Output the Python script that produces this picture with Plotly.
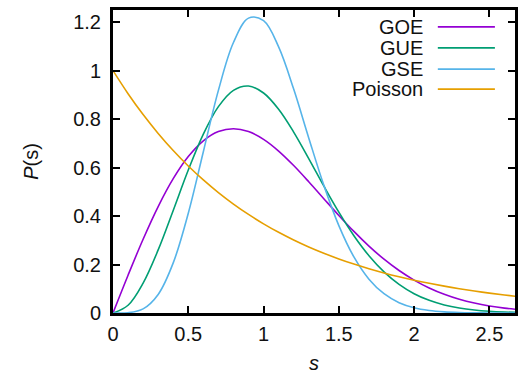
import plotly.graph_objects as go

s = [0.0, 0.1, 0.2, 0.3, 0.4, 0.5, 0.6, 0.7, 0.8, 0.9, 1.0, 1.1, 1.2, 1.3,
     1.4, 1.5, 1.6, 1.7, 1.8, 1.9, 2.0, 2.1, 2.2, 2.3, 2.4, 2.5, 2.6, 2.7]

goe = [0.0, 0.1559, 0.3044, 0.4391, 0.5541, 0.6454, 0.7104, 0.7483, 0.7602,
       0.7483, 0.7162, 0.6680, 0.6083, 0.5415, 0.4717, 0.4025, 0.3365, 0.2759,
       0.2220, 0.1752, 0.1358, 0.1033, 0.0772, 0.0567, 0.0409, 0.0290, 0.0202,
       0.0138]

gue = [0.0, 0.0320, 0.1233, 0.2602, 0.4232, 0.5896, 0.7381, 0.8514, 0.9187,
       0.9364, 0.9076, 0.8405, 0.7465, 0.6372, 0.5240, 0.4158, 0.3188, 0.2364,
       0.1698, 0.1181, 0.0797, 0.0521, 0.0331, 0.0204, 0.0122, 0.0071, 0.0040,
       0.0022]

gse = [0.0, 0.0011, 0.0170, 0.0766, 0.2067, 0.4116, 0.6654, 0.9185, 1.1158,
       1.2165, 1.2059, 1.0977, 0.9237, 0.7224, 0.5275, 0.3606, 0.2314, 0.1397,
       0.0795, 0.0427, 0.0217, 0.0104, 0.0047, 0.0020, 0.0008, 0.0003, 0.0001,
       0.0000]

poisson = [1.0, 0.9048, 0.8187, 0.7408, 0.6703, 0.6065, 0.5488, 0.4966, 0.4493,
           0.4066, 0.3679, 0.3329, 0.3012, 0.2725, 0.2466, 0.2231, 0.2019, 0.1827,
           0.1653, 0.1496, 0.1353, 0.1225, 0.1108, 0.1003, 0.0907, 0.0821, 0.0743,
           0.0672]

names = ["GOE", "GUE", "GSE", "Poisson"]
colors = ["#9400d3", "#009e73", "#56b4e9", "#e69f00"]
series = [goe, gue, gse, poisson]

FONT = "Liberation Sans, Arial, sans-serif"
TXT = "#111111"
FS = 20

fig = go.Figure()
for name, col, ys in zip(names, colors, series):
    fig.add_trace(go.Scatter(x=s, y=ys, mode="lines", name=name,
                             line=dict(color=col, width=1.6, shape="spline", smoothing=1.0),
                             showlegend=False, cliponaxis=True))

# manual gnuplot-style legend (text left, sample line right)
leg_y = [0.944, 0.875, 0.805, 0.739]
for name, col, yy in zip(names, colors, leg_y):
    fig.add_annotation(x=0.777, y=yy, xref="paper", yref="paper", text=name,
                       showarrow=False, xanchor="right", yanchor="middle",
                       font=dict(family=FONT, size=FS, color=TXT))
    fig.add_shape(type="line", xref="paper", yref="paper", x0=0.808, x1=0.950,
                  y0=yy, y1=yy, line=dict(color=col, width=1.8))

axis_common = dict(showline=True, linecolor="black", linewidth=3, mirror="ticks",
                   ticks="inside", ticklen=7, tickwidth=1.5, tickcolor="black",
                   showgrid=False, zeroline=False, automargin=False,
                   tickfont=dict(family=FONT, size=FS, color=TXT))

fig.update_xaxes(range=[0, 2.67], tickvals=[0, 0.5, 1, 1.5, 2, 2.5],
                 ticktext=["0", "0.5", "1", "1.5", "2", "2.5"],
                 ticklabelstandoff=1,
                 title=dict(text="<i>s</i>", font=dict(family=FONT, size=FS, color=TXT), standoff=15),
                 **axis_common)
fig.update_yaxes(range=[0, 1.25], tickvals=[0, 0.2, 0.4, 0.6, 0.8, 1.0, 1.2],
                 ticktext=["0", "0.2", "0.4", "0.6", "0.8", "1", "1.2"],
                 ticklabelstandoff=5,
                 title=dict(text="<i>P</i>(s)", font=dict(family=FONT, size=FS, color=TXT), standoff=30),
                 **axis_common)

fig.update_layout(width=525, height=374, margin=dict(l=113, r=10, t=10, b=61),
                  paper_bgcolor="white", plot_bgcolor="white")

fig.write_html("out.html")
